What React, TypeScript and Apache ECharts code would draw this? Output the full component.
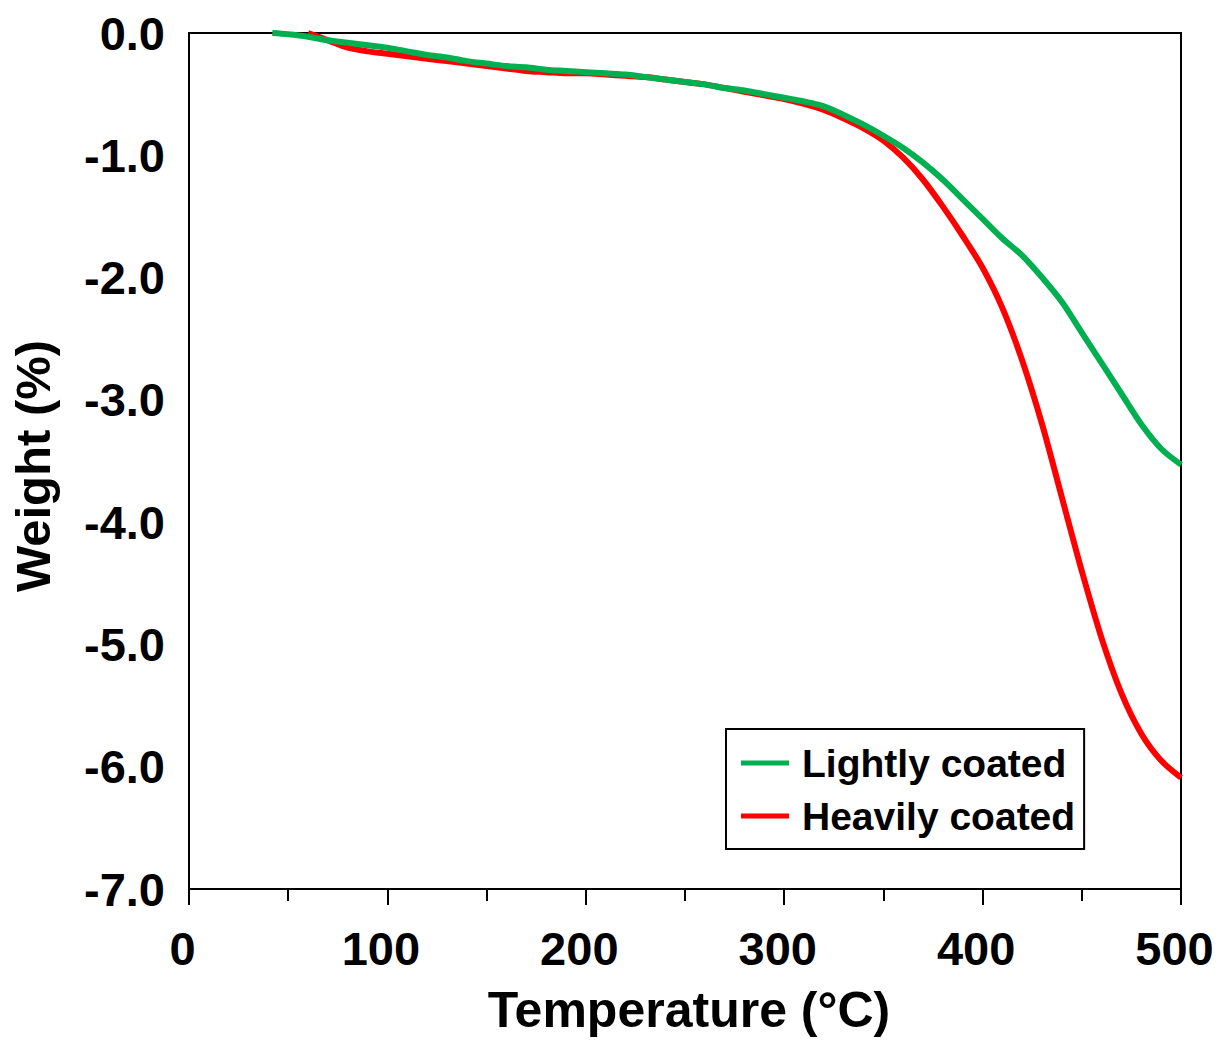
import React, { useEffect, useRef } from "react";
import * as echarts from "echarts";

const lightT = [42, 50, 60, 70, 80, 90, 100, 110, 120, 130, 140, 150, 160, 170, 180, 190, 200, 210, 220, 230, 240, 250, 260, 270, 280, 290, 300, 310, 320, 330, 340, 350, 360, 370, 380, 390, 400, 410, 420, 430, 440, 450, 460, 470, 480, 490, 500];
const lightW = [0.0, -0.01, -0.03, -0.06, -0.08, -0.1, -0.12, -0.15, -0.18, -0.2, -0.23, -0.25, -0.27, -0.28, -0.3, -0.31, -0.32, -0.33, -0.34, -0.36, -0.38, -0.4, -0.42, -0.45, -0.47, -0.5, -0.53, -0.56, -0.6, -0.67, -0.75, -0.84, -0.94, -1.06, -1.2, -1.36, -1.52, -1.68, -1.82, -2.0, -2.2, -2.45, -2.7, -2.95, -3.2, -3.4, -3.53];

const heavyT = [60, 70, 80, 90, 100, 110, 120, 130, 140, 150, 160, 170, 180, 190, 200, 210, 220, 230, 240, 250, 260, 270, 280, 290, 300, 310, 320, 330, 340, 350, 360, 370, 380, 390, 400, 410, 420, 430, 440, 450, 460, 470, 480, 490, 500];
const heavyW = [0.0, -0.06, -0.12, -0.15, -0.17, -0.19, -0.21, -0.23, -0.25, -0.27, -0.29, -0.31, -0.32, -0.33, -0.33, -0.34, -0.35, -0.36, -0.38, -0.4, -0.42, -0.45, -0.48, -0.51, -0.54, -0.58, -0.63, -0.7, -0.78, -0.88, -1.02, -1.2, -1.42, -1.66, -1.92, -2.25, -2.68, -3.2, -3.8, -4.4, -4.95, -5.4, -5.73, -5.95, -6.09];

const seriesNames = ["Lightly coated", "Heavily coated"];
const xTitle = "Temperature (°C)";
const yTitle = "Weight (%)";

const FONT = "'Liberation Sans', Arial, sans-serif";

export default function App() {
  const ref = useRef<HTMLDivElement>(null);
  useEffect(() => {
    if (!ref.current) return;
    const chart = echarts.init(ref.current, undefined, { renderer: "svg" });
    const toPairs = (xs: number[], ys: number[]) => xs.map((x, i) => [x, ys[i]]);
    chart.setOption({
      animation: false,
      backgroundColor: "#fff",
      grid: {
        left: 189,
        top: 33,
        right: 44,
        bottom: 151,
        show: true,
        borderColor: "#000",
        borderWidth: 2,
        backgroundColor: "transparent",
      },
      xAxis: {
        type: "value",
        min: 0,
        max: 500,
        interval: 100,
        axisLine: { show: true, onZero: false, lineStyle: { color: "#000", width: 2 } },
        axisTick: { show: true, length: 16, lineStyle: { color: "#000", width: 2 } },
        minorTick: { show: true, splitNumber: 2, length: 12, lineStyle: { color: "#000", width: 2 } },
        splitLine: { show: false },
        axisLabel: {
          color: "#000",
          fontSize: 47,
          fontWeight: "bold",
          fontFamily: FONT,
          margin: 36,
          padding: [0, 13, 0, 0],
        },
      },
      yAxis: {
        type: "value",
        min: -7,
        max: 0,
        interval: 1,
        axisLine: { show: true, lineStyle: { color: "#000", width: 2 } },
        axisTick: { show: false },
        splitLine: { show: false },
        axisLabel: {
          color: "#000",
          fontSize: 47,
          fontWeight: "bold",
          fontFamily: FONT,
          margin: 24,
          formatter: (v: number) => v.toFixed(1),
        },
      },
      legend: {
        data: seriesNames,
        orient: "vertical",
        left: 726,
        top: 729,
        padding: [14, 9, 13, 15],
        itemGap: 13,
        itemWidth: 48,
        itemHeight: 5,
        icon: "rect",
        borderColor: "#000",
        borderWidth: 2,
        backgroundColor: "#fff",
        textStyle: {
          color: "#000",
          fontSize: 39,
          fontWeight: "bold",
          fontFamily: FONT,
          lineHeight: 40,
          padding: [0, 0, 0, 8],
        },
      },
      graphic: [
        {
          type: "text",
          x: 33,
          y: 466,
          rotation: Math.PI / 2,
          style: {
            text: yTitle,
            fill: "#000",
            font: `bold 49px ${FONT}`,
            textAlign: "center",
            textVerticalAlign: "middle",
          },
        },
        {
          type: "text",
          x: 689,
          y: 1010,
          style: {
            text: xTitle,
            fill: "#000",
            font: `bold 50px ${FONT}`,
            textAlign: "center",
            textVerticalAlign: "middle",
          },
        },
      ],
      series: [
        {
          name: seriesNames[1],
          type: "line",
          data: toPairs(heavyT, heavyW),
          smooth: 0.3,
          symbol: "none",
          lineStyle: { color: "#FF0000", width: 6 },
          itemStyle: { color: "#FF0000" },
        },
        {
          name: seriesNames[0],
          type: "line",
          data: toPairs(lightT, lightW),
          smooth: 0.3,
          symbol: "none",
          lineStyle: { color: "#00B050", width: 6 },
          itemStyle: { color: "#00B050" },
        },
      ],
    });
    return () => chart.dispose();
  }, []);
  return (
    <div
      ref={ref}
      style={{ position: "fixed", left: 0, top: 0, width: 1225, height: 1040 }}
    />
  );
}
